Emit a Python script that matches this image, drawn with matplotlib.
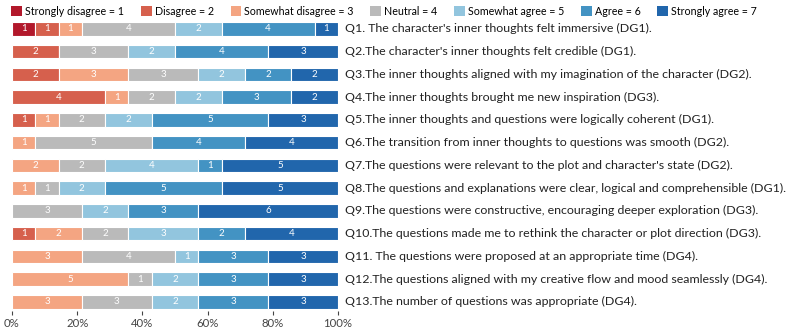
import numpy as np
import matplotlib.pyplot as plt
from matplotlib.patches import Patch

plt.rcParams['font.family'] = ['Lato', 'DejaVu Sans']

levels = ['Strongly disagree = 1', 'Disagree = 2', 'Somewhat disagree = 3', 'Neutral = 4',
          'Somewhat agree = 5', 'Agree = 6', 'Strongly agree = 7']
colors = ['#b2182b', '#d6604d', '#f4a582', '#bababa', '#92c5de', '#4393c3', '#2166ac']

questions = [
    "Q1. The character's inner thoughts felt immersive (DG1).",
    "Q2.The character's inner thoughts felt credible (DG1).",
    "Q3.The inner thoughts aligned with my imagination of the character (DG2).",
    "Q4.The inner thoughts brought me new inspiration (DG3).",
    "Q5.The inner thoughts and questions were logically coherent (DG1).",
    "Q6.The transition from inner thoughts to questions was smooth (DG2).",
    "Q7.The questions were relevant to the plot and character's state (DG2).",
    "Q8.The questions and explanations were clear, logical and comprehensible (DG1).",
    "Q9.The questions were constructive, encouraging deeper exploration (DG3).",
    "Q10.The questions made me to rethink the character or plot direction (DG3).",
    "Q11. The questions were proposed at an appropriate time (DG4).",
    "Q12.The questions aligned with my creative flow and mood seamlessly (DG4).",
    "Q13.The number of questions was appropriate (DG4).",
]

# counts per level (1..7)
counts = [
    [1, 1, 1, 4, 2, 4, 1],
    [0, 2, 0, 3, 2, 4, 3],
    [0, 2, 3, 3, 2, 2, 2],
    [0, 4, 1, 2, 2, 3, 2],
    [0, 1, 1, 2, 2, 5, 3],
    [0, 0, 1, 5, 0, 4, 4],
    [0, 0, 2, 2, 4, 1, 5],
    [0, 0, 1, 1, 2, 5, 5],
    [0, 0, 0, 3, 2, 3, 6],
    [0, 1, 2, 2, 3, 2, 4],
    [0, 0, 3, 4, 1, 3, 3],
    [0, 0, 5, 1, 2, 3, 3],
    [0, 0, 3, 3, 2, 3, 3],
]

counts = np.array(counts, dtype=float)
pct = counts / counts.sum(axis=1, keepdims=True) * 100
y = np.arange(len(questions))

fig = plt.figure(figsize=(7.93, 3.30), dpi=100)
ax = fig.add_axes([12/793, 1 - 311/330, 326/793, 295.75/330])

left = np.zeros(len(questions))
for j in range(7):
    ax.barh(y, pct[:, j], left=left, height=0.6, color=colors[j],
            edgecolor='white', linewidth=0.8)
    for i in range(len(questions)):
        if counts[i, j] > 0:
            ax.text(left[i] + pct[i, j] / 2, y[i], str(int(counts[i, j])),
                    ha='center', va='center', color='white', fontsize=7)
    left += pct[:, j]

for i, q in enumerate(questions):
    ax.text(102, y[i], q, ha='left', va='center', fontsize=8.9, color='#222222')

ax.set_xlim(0, 100)
ax.set_ylim(12.4, -0.6)
ax.set_yticks([])
ax.set_xticks(np.arange(0, 101, 20))
ax.set_xticklabels([f'{v}%' for v in range(0, 101, 20)], fontsize=8.2)
ax.tick_params(axis='x', length=3, width=0.8, colors='#444444', pad=2)
for s in ax.spines.values():
    s.set_visible(False)

handles = [Patch(facecolor=c, edgecolor='none') for c in colors]
fig.legend(handles, levels, loc='upper left', bbox_to_anchor=(0.007, 1.0), ncol=7,
           frameon=False, fontsize=7.7, handlelength=1.0, handleheight=1.0,
           handletextpad=0.3, columnspacing=1.55, borderaxespad=0.15)

fig.savefig('out.png', dpi=100)
